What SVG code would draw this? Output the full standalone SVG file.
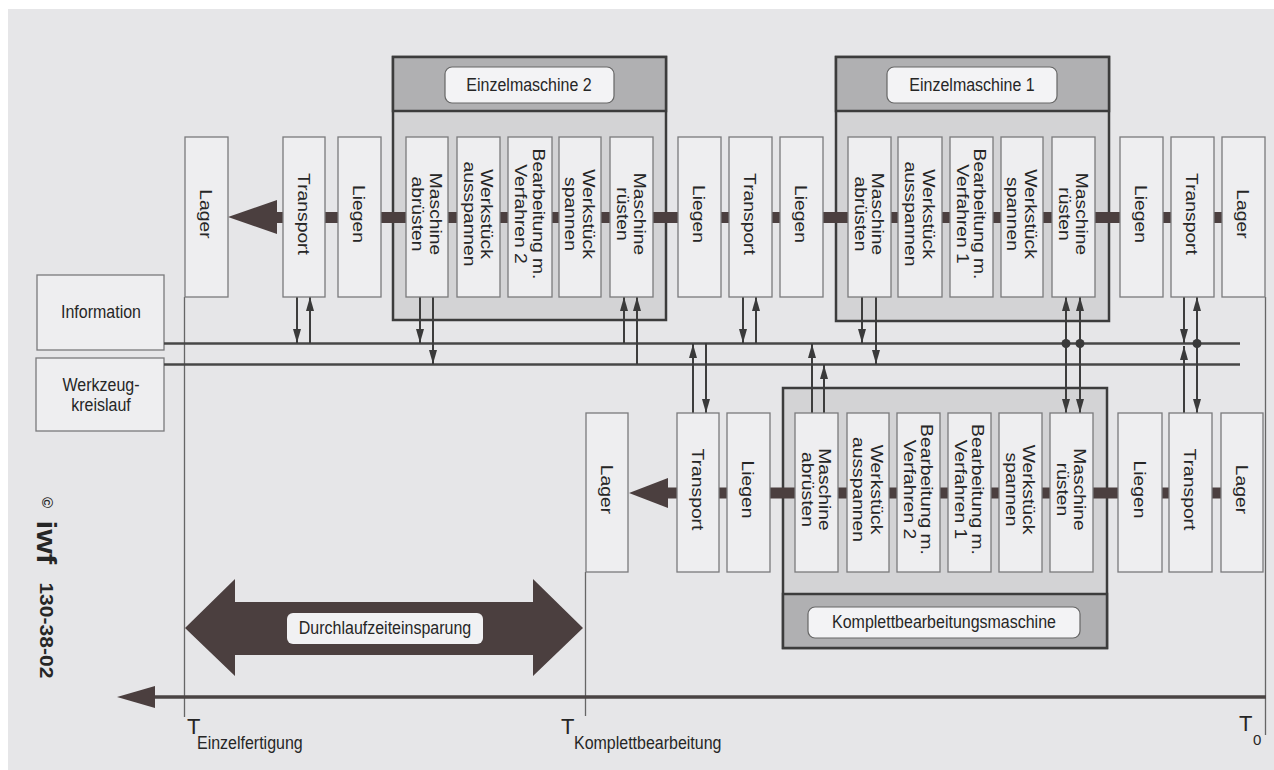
<svg xmlns="http://www.w3.org/2000/svg" width="1274" height="770" viewBox="0 0 1274 770">
<defs>
<style>
.box{fill:#eeeef0;stroke:#7a7a7c;stroke-width:1.3}
.mbody{fill:#d3d3d5;stroke:#3c3c3c;stroke-width:2.5}
.mhead{fill:#b0b0b2;stroke:#3c3c3c;stroke-width:2.5}
.lbl{fill:#f3f3f5;stroke:#666;stroke-width:1.2}
.t{font-family:"Liberation Sans",Arial,sans-serif;font-size:16.5px;fill:#262626;text-anchor:middle}
.th{font-family:"Liberation Sans",Arial,sans-serif;font-size:16px;fill:#262626;text-anchor:middle}
.flow{stroke:#4b3f3f;stroke-width:11;fill:none}
.dark{fill:#4b3f3f}
.conn{stroke:#3d3d3d;stroke-width:2;fill:none}
.cu{marker-end:url(#ah)}
.cb{marker-end:url(#ah);marker-start:url(#ah)}
.bus{stroke:#474747;stroke-width:2.5;fill:none}
.tl{stroke:#666;stroke-width:1.3;fill:none}
.tt{font-family:"Liberation Sans",Arial,sans-serif;fill:#262626}
</style>
<marker id="ah" viewBox="0 0 14 8" refX="14" refY="4" markerWidth="14" markerHeight="8" markerUnits="userSpaceOnUse" orient="auto-start-reverse"><path d="M0,0 L14,4 L0,8 z" fill="#3a3a3a"/></marker>
</defs>
<rect x="0" y="0" width="1274" height="770" fill="#ffffff"/>
<rect x="8" y="9" width="1266" height="761" fill="#e6e6e8"/>

<!-- time lines -->
<g id="timeaxis">
<path class="tl" d="M184.5,297 V717"/>
<path class="tl" d="M585.5,572 V716"/>
<path class="tl" d="M1265.5,297 V735"/>
<path d="M155,697 H1266" stroke="#4a4444" stroke-width="3.5"/>
<polygon class="dark" points="117,697 155,686 155,708"/>
<text class="tt" x="187" y="734" font-size="22">T</text>
<text class="tt" x="197" y="749" font-size="16" transform="translate(0,749) scale(1,1.1) translate(0,-749)">Einzelfertigung</text>
<text class="tt" x="561" y="734" font-size="22">T</text>
<text class="tt" x="574" y="749" font-size="16" transform="translate(0,749) scale(1,1.1) translate(0,-749)">Komplettbearbeitung</text>
<text class="tt" x="1239" y="731" font-size="22">T</text>
<text class="tt" x="1253" y="745" font-size="15">0</text>
</g>

<!-- Durchlaufzeiteinsparung -->
<g id="durchlauf">
<polygon class="dark" points="185,628 235,579 235,602 533,602 533,579 583,628 533,676 533,655 235,655 235,676"/>
<rect x="287" y="613" width="196" height="31" rx="6" fill="#f1f1f3"/>
<text class="th" transform="translate(385,628) scale(1,1.12)" y="5.5">Durchlaufzeiteinsparung</text>
</g>

<!-- copyright -->
<g id="copyright" transform="translate(47,497) rotate(90)">
<text class="tt" x="0" y="5" font-size="15" font-weight="bold">©</text>
<text class="tt" x="20" y="10" font-size="27" font-weight="bold" transform="scale(1.17,1)">iwf</text>
<text class="tt" x="73" y="7" font-size="18" font-weight="bold" transform="scale(1.17,1)">130-38-02</text>
</g>

<!-- side nodes -->
<g id="information">
<rect class="box" x="37" y="275" width="127" height="75"/>
<text class="th" transform="translate(101,312) scale(1,1.12)" y="5.5">Information</text>
</g>
<g id="werkzeugkreislauf">
<rect class="box" x="36" y="358" width="128" height="73"/>
<text class="th" transform="translate(101,385) scale(1,1.12)" y="5.5">Werkzeug-</text>
<text class="th" transform="translate(101,405) scale(1,1.12)" y="5.5">kreislauf</text>
</g>

<!-- machine frames -->
<g id="einzelmaschine2">
<rect class="mbody" x="393" y="57" width="273" height="263"/>
<rect class="mhead" x="393" y="57" width="273" height="54"/>
<rect class="lbl" x="445" y="67" width="169" height="36" rx="7"/>
<text class="th" transform="translate(529,85) scale(1,1.12)" y="5.5">Einzelmaschine 2</text>
</g>
<g id="einzelmaschine1">
<rect class="mbody" x="836" y="57" width="273" height="264"/>
<rect class="mhead" x="836" y="57" width="273" height="54"/>
<rect class="lbl" x="887" y="67" width="170" height="36" rx="7"/>
<text class="th" transform="translate(972,85) scale(1,1.12)" y="5.5">Einzelmaschine 1</text>
</g>
<g id="komplettmaschine">
<rect class="mbody" x="783" y="388" width="324" height="260"/>
<rect class="mhead" x="783" y="594" width="324" height="54"/>
<rect class="lbl" x="808" y="607" width="272" height="31" rx="7"/>
<text class="th" transform="translate(944,622) scale(1,1.12)" y="5.5">Komplettbearbeitungsmaschine</text>
</g>

<!-- connectors -->
<g id="connectors">
<path class="flow" d="M276,217.5 H1223"/>
<polygon class="dark" points="228,217 277,200 277,234"/>
<path class="flow" d="M667,493 H1221"/>
<polygon class="dark" points="629,493 668,478 668,508"/>
<path class="bus" d="M164,343.5 H1240"/>
<path class="bus" d="M164,364.5 H1240"/>
<path class="conn cu" d="M297,297 V343"/>
<path class="conn cu" d="M310,343 V297"/>
<path class="conn cu" d="M420,297 V343"/>
<path class="conn cu" d="M433,297 V364"/>
<path class="conn cu" d="M624,343 V297"/>
<path class="conn cu" d="M637,364 V297"/>
<path class="conn cu" d="M743,297 V343"/>
<path class="conn cu" d="M756,343 V297"/>
<path class="conn cu" d="M862,297 V343"/>
<path class="conn cu" d="M876,297 V364"/>
<path class="conn cb" d="M1066,297 V413"/>
<path class="conn cb" d="M1080,297 V413"/>
<path class="conn cu" d="M1184,297 V343"/>
<path class="conn cu" d="M1184,413 V346"/>
<path class="conn cb" d="M1197,297 V413"/>
<path class="conn cu" d="M693,413 V344"/>
<path class="conn cu" d="M706,343 V413"/>
<path class="conn cu" d="M812,413 V344"/>
<path class="conn cu" d="M824,413 V365"/>
<circle cx="1066" cy="343.5" r="4.5" fill="#3a3a3a"/>
<circle cx="1080" cy="343.5" r="4.5" fill="#3a3a3a"/>
<circle cx="1197" cy="343.5" r="4.5" fill="#3a3a3a"/>
</g>

<!-- top row nodes -->
<g id="lager-t1"><rect class="box" x="185" y="137" width="43" height="160"/><text class="t" transform="translate(206.5,214) scale(1,1.17) rotate(90)"><tspan x="0" y="6">Lager</tspan></text></g>
<g id="transport-t1"><rect class="box" x="283" y="137" width="42" height="160"/><text class="t" transform="translate(304,214) scale(1,1.17) rotate(90)"><tspan x="0" y="6">Transport</tspan></text></g>
<g id="liegen-t1"><rect class="box" x="338" y="137" width="43" height="160"/><text class="t" transform="translate(359.5,214) scale(1,1.17) rotate(90)"><tspan x="0" y="6">Liegen</tspan></text></g>
<g id="m2-abruesten"><rect class="box" x="406" y="137" width="42" height="160"/><text class="t" transform="translate(427,214) scale(1,1.17) rotate(90)"><tspan x="0" y="-3">Maschine</tspan><tspan x="0" y="15">abrüsten</tspan></text></g>
<g id="m2-ausspannen"><rect class="box" x="457" y="137" width="43" height="160"/><text class="t" transform="translate(478.5,214) scale(1,1.17) rotate(90)"><tspan x="0" y="-3">Werkstück</tspan><tspan x="0" y="15">ausspannen</tspan></text></g>
<g id="m2-bearbeitung"><rect class="box" x="508" y="137" width="44" height="160"/><text class="t" transform="translate(530,214) scale(1,1.17) rotate(90)"><tspan x="0" y="-3">Bearbeitung m.</tspan><tspan x="0" y="15">Verfahren 2</tspan></text></g>
<g id="m2-spannen"><rect class="box" x="559" y="137" width="42" height="160"/><text class="t" transform="translate(580,214) scale(1,1.17) rotate(90)"><tspan x="0" y="-3">Werkstück</tspan><tspan x="0" y="15">spannen</tspan></text></g>
<g id="m2-ruesten"><rect class="box" x="610" y="137" width="43" height="160"/><text class="t" transform="translate(631.5,214) scale(1,1.17) rotate(90)"><tspan x="0" y="-3">Maschine</tspan><tspan x="0" y="15">rüsten</tspan></text></g>
<g id="liegen-t2"><rect class="box" x="678" y="137" width="43" height="160"/><text class="t" transform="translate(699.5,214) scale(1,1.17) rotate(90)"><tspan x="0" y="6">Liegen</tspan></text></g>
<g id="transport-t2"><rect class="box" x="729" y="137" width="43" height="160"/><text class="t" transform="translate(750.5,214) scale(1,1.17) rotate(90)"><tspan x="0" y="6">Transport</tspan></text></g>
<g id="liegen-t3"><rect class="box" x="780" y="137" width="43" height="160"/><text class="t" transform="translate(801.5,214) scale(1,1.17) rotate(90)"><tspan x="0" y="6">Liegen</tspan></text></g>
<g id="m1-abruesten"><rect class="box" x="848" y="137" width="43" height="160"/><text class="t" transform="translate(869.5,214) scale(1,1.17) rotate(90)"><tspan x="0" y="-3">Maschine</tspan><tspan x="0" y="15">abrüsten</tspan></text></g>
<g id="m1-ausspannen"><rect class="box" x="898" y="137" width="44" height="160"/><text class="t" transform="translate(920,214) scale(1,1.17) rotate(90)"><tspan x="0" y="-3">Werkstück</tspan><tspan x="0" y="15">ausspannen</tspan></text></g>
<g id="m1-bearbeitung"><rect class="box" x="950" y="137" width="43" height="160"/><text class="t" transform="translate(971.5,214) scale(1,1.17) rotate(90)"><tspan x="0" y="-3">Bearbeitung m.</tspan><tspan x="0" y="15">Verfahren 1</tspan></text></g>
<g id="m1-spannen"><rect class="box" x="1001" y="137" width="42" height="160"/><text class="t" transform="translate(1022,214) scale(1,1.17) rotate(90)"><tspan x="0" y="-3">Werkstück</tspan><tspan x="0" y="15">spannen</tspan></text></g>
<g id="m1-ruesten"><rect class="box" x="1052" y="137" width="43" height="160"/><text class="t" transform="translate(1073.5,214) scale(1,1.17) rotate(90)"><tspan x="0" y="-3">Maschine</tspan><tspan x="0" y="15">rüsten</tspan></text></g>
<g id="liegen-t4"><rect class="box" x="1120" y="137" width="43" height="160"/><text class="t" transform="translate(1141.5,214) scale(1,1.17) rotate(90)"><tspan x="0" y="6">Liegen</tspan></text></g>
<g id="transport-t3"><rect class="box" x="1171" y="137" width="43" height="160"/><text class="t" transform="translate(1192.5,214) scale(1,1.17) rotate(90)"><tspan x="0" y="6">Transport</tspan></text></g>
<g id="lager-t2"><rect class="box" x="1222" y="137" width="43" height="160"/><text class="t" transform="translate(1243.5,214) scale(1,1.17) rotate(90)"><tspan x="0" y="6">Lager</tspan></text></g>

<!-- bottom row nodes -->
<g id="lager-b1"><rect class="box" x="586" y="413" width="42" height="159"/><text class="t" transform="translate(607,489.5) scale(1,1.17) rotate(90)"><tspan x="0" y="6">Lager</tspan></text></g>
<g id="transport-b1"><rect class="box" x="677" y="413" width="42" height="159"/><text class="t" transform="translate(698,489.5) scale(1,1.17) rotate(90)"><tspan x="0" y="6">Transport</tspan></text></g>
<g id="liegen-b1"><rect class="box" x="727" y="413" width="43" height="159"/><text class="t" transform="translate(748.5,489.5) scale(1,1.17) rotate(90)"><tspan x="0" y="6">Liegen</tspan></text></g>
<g id="k-abruesten"><rect class="box" x="795" y="413" width="43" height="159"/><text class="t" transform="translate(816.5,489.5) scale(1,1.17) rotate(90)"><tspan x="0" y="-3">Maschine</tspan><tspan x="0" y="15">abrüsten</tspan></text></g>
<g id="k-ausspannen"><rect class="box" x="847" y="413" width="42" height="159"/><text class="t" transform="translate(868,489.5) scale(1,1.17) rotate(90)"><tspan x="0" y="-3">Werkstück</tspan><tspan x="0" y="15">ausspannen</tspan></text></g>
<g id="k-bearbeitung2"><rect class="box" x="897" y="413" width="43" height="159"/><text class="t" transform="translate(918.5,489.5) scale(1,1.17) rotate(90)"><tspan x="0" y="-3">Bearbeitung m.</tspan><tspan x="0" y="15">Verfahren 2</tspan></text></g>
<g id="k-bearbeitung1"><rect class="box" x="948" y="413" width="43" height="159"/><text class="t" transform="translate(969.5,489.5) scale(1,1.17) rotate(90)"><tspan x="0" y="-3">Bearbeitung m.</tspan><tspan x="0" y="15">Verfahren 1</tspan></text></g>
<g id="k-spannen"><rect class="box" x="999" y="413" width="43" height="159"/><text class="t" transform="translate(1020.5,489.5) scale(1,1.17) rotate(90)"><tspan x="0" y="-3">Werkstück</tspan><tspan x="0" y="15">spannen</tspan></text></g>
<g id="k-ruesten"><rect class="box" x="1050" y="413" width="43" height="159"/><text class="t" transform="translate(1071.5,489.5) scale(1,1.17) rotate(90)"><tspan x="0" y="-3">Maschine</tspan><tspan x="0" y="15">rüsten</tspan></text></g>
<g id="liegen-b2"><rect class="box" x="1118" y="413" width="44" height="159"/><text class="t" transform="translate(1140,489.5) scale(1,1.17) rotate(90)"><tspan x="0" y="6">Liegen</tspan></text></g>
<g id="transport-b2"><rect class="box" x="1169" y="413" width="43" height="159"/><text class="t" transform="translate(1190.5,489.5) scale(1,1.17) rotate(90)"><tspan x="0" y="6">Transport</tspan></text></g>
<g id="lager-b2"><rect class="box" x="1221" y="413" width="42" height="159"/><text class="t" transform="translate(1242,489.5) scale(1,1.17) rotate(90)"><tspan x="0" y="6">Lager</tspan></text></g>
</svg>
